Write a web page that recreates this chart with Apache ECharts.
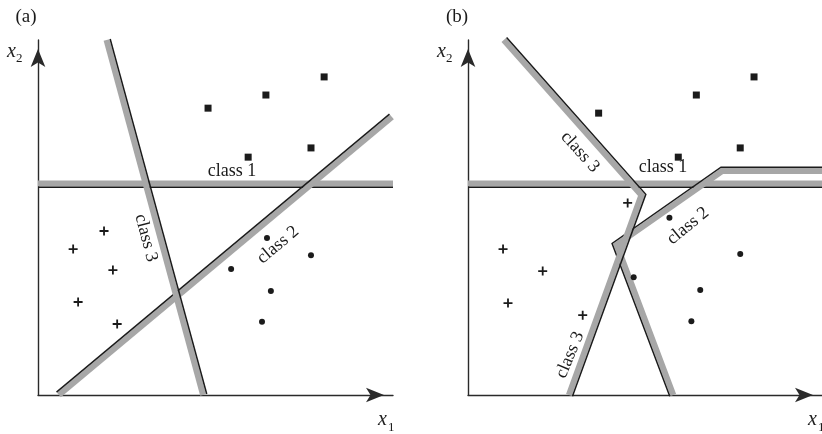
<!DOCTYPE html>
<html>
<head>
<meta charset="utf-8">
<script src="https://cdn.jsdelivr.net/npm/echarts@6/dist/echarts.min.js"></script>
<style>
  html, body { margin: 0; padding: 0; background: #fff; }
  #chart { width: 822px; height: 434px; }
</style>
</head>
<body>
<div id="chart"></div>
<script>
// ---- Decision boundaries (x1, x2 in feature units, 0..10 on each axis) ----
// (a) straight-line discriminants
const aClass1Edge = [[0, 5.96], [10, 5.96]];
const aClass2Edge = [[0.59, 0], [9.97, 7.83]];
const aClass3Edge = [[1.93, 10], [4.65, 0]];
// (b) piecewise boundaries
const bClass1Edge = [[0, 5.96], [10, 5.96]];
const bClass2Edge = [[10, 6.31], [7.18, 6.31], [4.20, 4.23], [5.80, 0]];
const bClass3Edge = [[1.01, 10], [4.90, 5.63], [2.85, 0]];

// ---- Training samples ----
const aSquares = [[4.79, 8.08], [6.42, 8.45], [8.06, 8.96], [5.92, 6.70], [7.69, 6.96]];
const aPluses  = [[1.86, 4.62], [0.99, 4.11], [2.11, 3.52], [1.13, 2.62], [2.23, 2.00]];
const aDots    = [[6.45, 4.42], [7.69, 3.94], [5.44, 3.55], [6.56, 2.93], [6.31, 2.06]];
const bSquares = [[3.69, 7.94], [6.45, 8.45], [8.08, 8.96], [5.94, 6.70], [7.69, 6.96]];
const bPluses  = [[4.51, 5.41], [0.99, 4.11], [2.11, 3.49], [1.13, 2.59], [3.24, 2.25]];
const bDots    = [[5.69, 4.99], [7.69, 3.97], [4.68, 3.32], [6.56, 2.96], [6.31, 2.08]];

// ---- Text ----
const panelTitles = ['(a)', '(b)'];
const classNames = ['class 1', 'class 2', 'class 3'];

const SERIF = '"Liberation Serif", "DejaVu Serif", serif';
const GRAY = '#a7a7a7';
const INK = '#1b1b1b';
const EDGE_OFFSET = 3.8;

// which side of the travel direction the dark rim sits on
const boundariesA = [
  { pts: aClass1Edge, side: 1 },
  { pts: aClass2Edge, side: -1 },
  { pts: aClass3Edge, side: -1 }
];
const boundariesB = [
  { pts: bClass1Edge, side: 1 },
  { pts: bClass2Edge, side: 1 },
  { pts: bClass3Edge, side: -1 }
];

function offsetPolyline(pts, d) {
  const n = pts.length;
  const normals = [];
  for (let i = 0; i < n - 1; i++) {
    const dx = pts[i + 1][0] - pts[i][0];
    const dy = pts[i + 1][1] - pts[i][1];
    const L = Math.hypot(dx, dy);
    normals.push([-dy / L, dx / L]);
  }
  return pts.map((p, i) => {
    if (i === 0) return [p[0] + normals[0][0] * d, p[1] + normals[0][1] * d];
    if (i === n - 1) return [p[0] + normals[n - 2][0] * d, p[1] + normals[n - 2][1] * d];
    const a = normals[i - 1], b = normals[i];
    const mx = a[0] + b[0], my = a[1] + b[1];
    const ml = Math.hypot(mx, my);
    const ux = mx / ml, uy = my / ml;
    const k = d / (ux * a[0] + uy * a[1]);
    return [p[0] + ux * k, p[1] + uy * k];
  });
}

function boundarySeries(idx, lines) {
  return {
    type: 'custom',
    xAxisIndex: idx,
    yAxisIndex: idx,
    z: 2,
    silent: true,
    data: lines.map((l, i) => [l.pts[0][0], l.pts[0][1], i]),
    encode: { x: 0, y: 1 },
    renderItem: function (params, api) {
      const line = lines[api.value(2)];
      const pts = line.pts.map(p => api.coord(p));
      const rim = offsetPolyline(pts, line.side * EDGE_OFFSET);
      return {
        type: 'group',
        children: [
          { type: 'polyline', shape: { points: pts },
            style: { stroke: GRAY, lineWidth: 6, fill: null, lineJoin: 'miter', lineCap: 'butt' } },
          { type: 'polyline', shape: { points: rim },
            style: { stroke: INK, lineWidth: 1.5, fill: null, lineJoin: 'miter', lineCap: 'butt' } }
        ]
      };
    }
  };
}

const PLUS = 'path://M4,0h2v4h4v2h-4v4h-2v-4h-4v-2h4z';

function sampleSeries(idx, squares, pluses, dots) {
  const base = { type: 'scatter', xAxisIndex: idx, yAxisIndex: idx, z: 3, silent: true,
                 itemStyle: { color: INK, opacity: 1 } };
  return [
    Object.assign({}, base, { data: squares, symbol: 'rect', symbolSize: 7 }),
    Object.assign({}, base, { data: pluses, symbol: PLUS, symbolSize: 9 }),
    Object.assign({}, base, { data: dots, symbol: 'circle', symbolSize: 6 })
  ];
}

function axisPair(idx, horizontal) {
  return {
    type: 'value', gridIndex: idx, min: 0, max: 10,
    axisLine: { show: true, onZero: false, symbol: ['none', 'arrow'], symbolSize: [11, 18],
                symbolOffset: [0, -9], lineStyle: { color: '#2a2a2a', width: 1.4 } },
    axisTick: { show: false }, axisLabel: { show: false }, splitLine: { show: false }
  };
}

function txt(x, y, text, opts) {
  opts = opts || {};
  return {
    type: 'text', x: x, y: y, rotation: (opts.rot || 0) * Math.PI / 180, z: 5, silent: true,
    style: {
      text: text,
      font: (opts.italic ? 'italic ' : '') + (opts.size || 18) + 'px ' + SERIF,
      fill: INK,
      align: opts.align || 'center',
      verticalAlign: 'middle',
      textAlign: opts.align || 'center',
      textVerticalAlign: 'middle'
    }
  };
}

const chart = echarts.init(document.getElementById('chart'), null, { renderer: 'canvas' });

chart.setOption({
  animation: false,
  backgroundColor: '#fff',
  grid: [
    { left: 38, top: 40, width: 355, height: 355 },
    { left: 468, top: 40, width: 355, height: 355 }
  ],
  xAxis: [axisPair(0, true), axisPair(1, true)],
  yAxis: [axisPair(0, false), axisPair(1, false)],
  series: [
    boundarySeries(0, boundariesA),
    boundarySeries(1, boundariesB)
  ].concat(sampleSeries(0, aSquares, aPluses, aDots), sampleSeries(1, bSquares, bPluses, bDots)),
  graphic: [
    txt(26, 17, panelTitles[0], { size: 19 }),
    txt(457, 17, panelTitles[1], { size: 19 }),
    // axis names
    txt(7, 52, 'x', { italic: true, size: 20, align: 'left' }),
    txt(16, 59, '2', { size: 13, align: 'left' }),
    txt(437, 52, 'x', { italic: true, size: 20, align: 'left' }),
    txt(446, 59, '2', { size: 13, align: 'left' }),
    txt(378, 420, 'x', { italic: true, size: 20, align: 'left' }),
    txt(388, 428, '1', { size: 13, align: 'left' }),
    txt(808, 420, 'x', { italic: true, size: 20, align: 'left' }),
    txt(818, 428, '1', { size: 13, align: 'left' }),
    // region names, panel (a)
    txt(232, 171, classNames[0]),
    txt(278, 245, classNames[1], { rot: 40 }),
    txt(146, 238, classNames[2], { rot: -75 }),
    // region names, panel (b)
    txt(663, 167, classNames[0]),
    txt(688, 226, classNames[1], { rot: 39 }),
    txt(580, 152, classNames[2], { rot: -48 }),
    txt(570, 355, classNames[2], { rot: 67 })
  ]
});
</script>
</body>
</html>
